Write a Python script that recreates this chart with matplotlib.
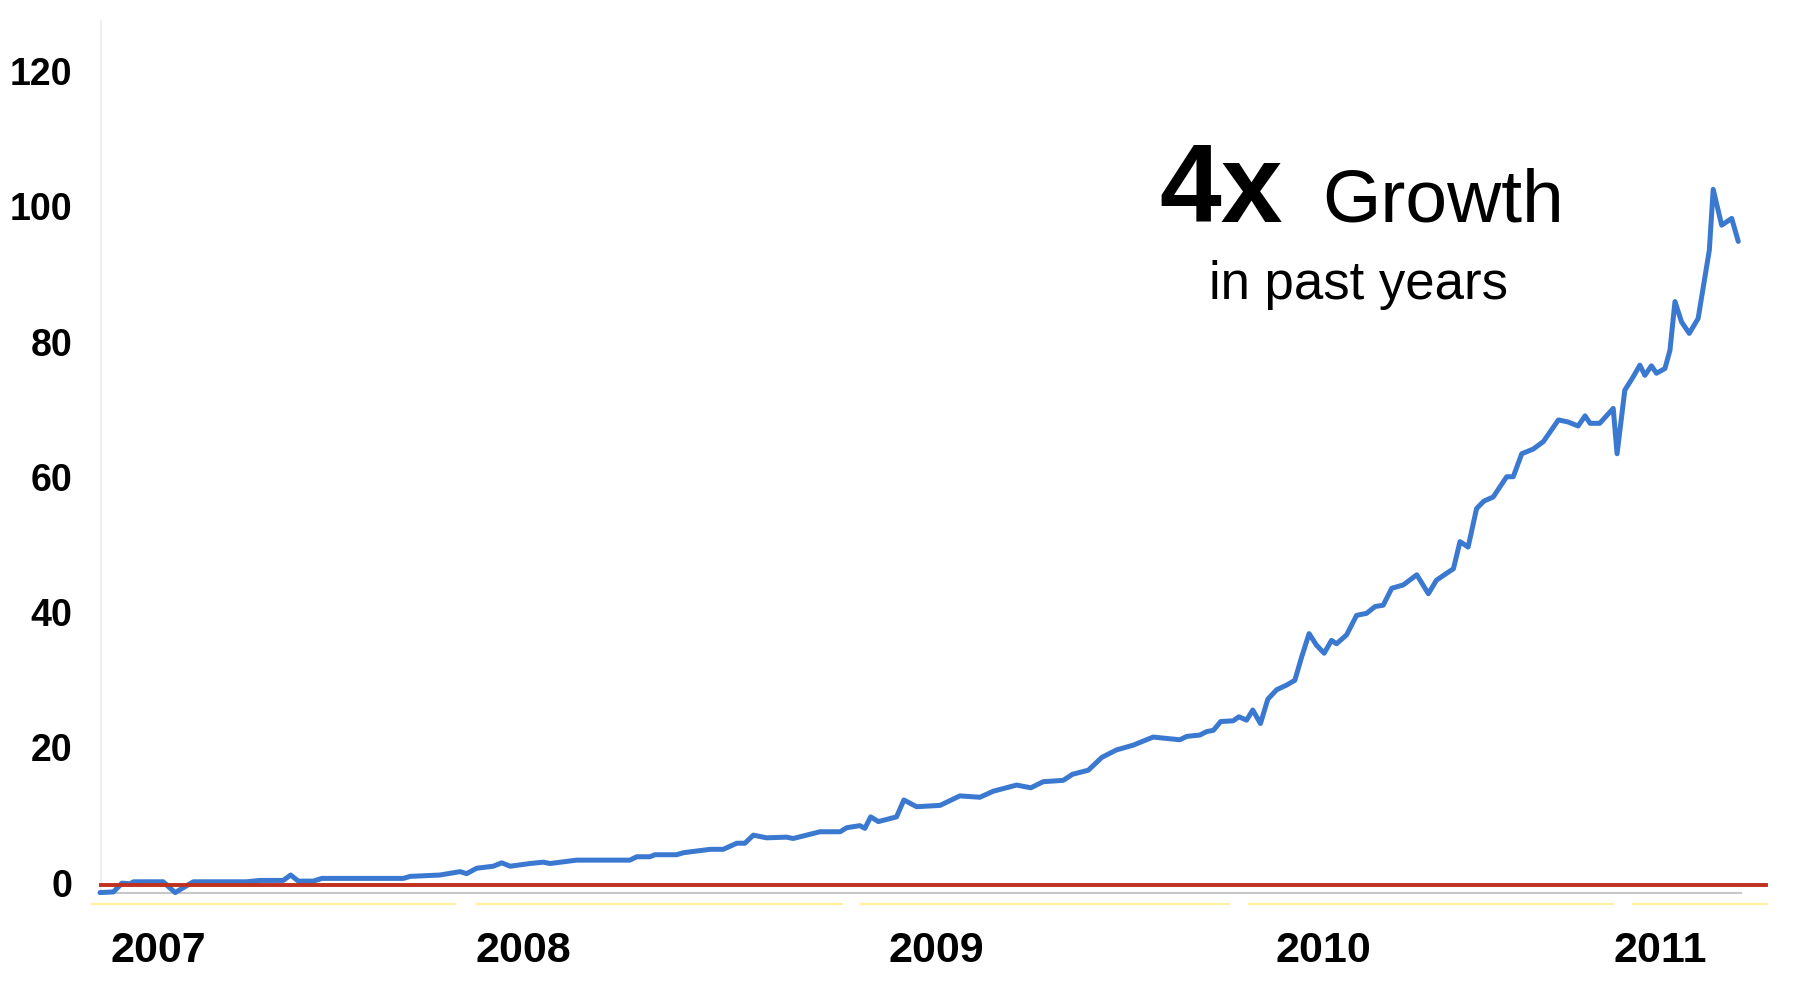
import matplotlib
matplotlib.use("Agg")
import matplotlib.pyplot as plt

plt.rcParams['font.family'] = ['Liberation Sans', 'DejaVu Sans']

# weekly search interest (decimal year, index)
years = [2007.054, 2007.089, 2007.111, 2007.132, 2007.141, 2007.218, 2007.231,
         2007.249, 2007.275, 2007.296, 2007.434, 2007.469, 2007.529, 2007.548,
         2007.568, 2007.607, 2007.629, 2007.840, 2007.858, 2007.935, 2007.987,
         2008.004, 2008.030, 2008.073, 2008.095, 2008.117, 2008.168, 2008.203,
         2008.220, 2008.289, 2008.350, 2008.427, 2008.445, 2008.479, 2008.492,
         2008.548, 2008.566, 2008.635, 2008.669, 2008.704, 2008.725, 2008.747,
         2008.781, 2008.833, 2008.850, 2008.885, 2008.920, 2008.972, 2008.989,
         2009.023, 2009.036, 2009.051, 2009.071, 2009.118, 2009.137, 2009.170,
         2009.231, 2009.282, 2009.334, 2009.369, 2009.429, 2009.466, 2009.498,
         2009.550, 2009.574, 2009.615, 2009.650, 2009.688, 2009.731, 2009.783,
         2009.818, 2009.852, 2009.870, 2009.904, 2009.921, 2009.939, 2009.958,
         2009.990, 2010.005, 2010.025, 2010.041, 2010.061, 2010.080, 2010.103,
         2010.129, 2010.150, 2010.168, 2010.187, 2010.206, 2010.226, 2010.245,
         2010.258, 2010.284, 2010.310, 2010.336, 2010.358, 2010.379, 2010.401,
         2010.431, 2010.466, 2010.496, 2010.517, 2010.561, 2010.578, 2010.599,
         2010.621, 2010.640, 2010.664, 2010.699, 2010.716, 2010.738, 2010.768,
         2010.794, 2010.833, 2010.858, 2010.884, 2010.902, 2010.915, 2010.940,
         2010.975, 2010.985, 2011.005, 2011.027, 2011.044, 2011.057, 2011.074,
         2011.087, 2011.109, 2011.122, 2011.135, 2011.152, 2011.172, 2011.195,
         2011.210, 2011.224, 2011.234, 2011.256, 2011.282, 2011.299]
interest = [-1.4, -1.3, 0.0, -0.1, 0.2, 0.2, -0.5,
            -1.4, -0.5, 0.2, 0.2, 0.4, 0.4, 1.2,
            0.3, 0.3, 0.7, 0.7, 1.0, 1.2, 1.7,
            1.4, 2.2, 2.5, 3.0, 2.5, 2.9, 3.1,
            2.9, 3.4, 3.4, 3.4, 3.9, 3.9, 4.2,
            4.2, 4.5, 5.0, 5.0, 5.9, 5.9, 7.1,
            6.7, 6.8, 6.6, 7.1, 7.6, 7.6, 8.2,
            8.5, 8.1, 9.8, 9.1, 9.8, 12.3, 11.3,
            11.5, 12.9, 12.7, 13.6, 14.5, 14.1, 15.0,
            15.2, 16.1, 16.7, 18.6, 19.7, 20.4, 21.6,
            21.4, 21.2, 21.7, 21.9, 22.4, 22.6, 23.9,
            24.0, 24.6, 24.1, 25.6, 23.6, 27.2, 28.6,
            29.3, 30.0, 33.5, 36.9, 35.2, 34.0, 35.9,
            35.4, 36.7, 39.6, 39.9, 40.9, 41.1, 43.6,
            44.1, 45.6, 42.8, 44.8, 46.5, 50.5, 49.7,
            55.4, 56.5, 57.1, 60.1, 60.1, 63.5, 64.2,
            65.3, 68.5, 68.2, 67.6, 69.1, 68.0, 68.0,
            70.2, 63.5, 72.9, 74.9, 76.6, 75.1, 76.5,
            75.4, 76.1, 78.8, 86.0, 83.0, 81.3, 83.5,
            88.7, 93.6, 102.6, 97.3, 98.3, 94.9]

ytick_vals = [0, 20, 40, 60, 80, 100, 120]
year_labels = ['2007', '2008', '2009', '2010', '2011']
year_label_pos = [2007.205, 2008.151, 2009.220, 2010.223, 2011.098]
# year bands shown as thin strips under the axis
band_start = [2007.033, 2008.030, 2009.027, 2010.030, 2011.027]
band_end = [2007.973, 2008.976, 2009.976, 2010.973, 2011.374]

fig = plt.figure(figsize=(17.95, 9.92), dpi=100)
ax = fig.add_axes([0, 0, 1, 1])
ax.set_xlim(2006.795, 2011.446)
ax.set_ylim(-16.1, 130.6)
ax.axis('off')

x0 = 2007.057
ax.plot([x0, x0], [-1.5, 127.5], color='#ececec', lw=1.2, zorder=1)
ax.plot([x0, 2011.306], [-1.45, -1.45], color='#c8c8c8', lw=1.5, zorder=1)
ax.plot([x0, 2011.370], [-0.35, -0.35], color='#c0301e', lw=2.8, zorder=3)
for s, e in zip(band_start, band_end):
    ax.plot([s, e], [-3.1, -3.1], color='#fff0a0', lw=1.6, zorder=1)

ax.plot(years, interest, color='#3b79d0', lw=3.6, solid_joinstyle='round',
        solid_capstyle='round', zorder=2)

for v in ytick_vals:
    ax.text(2006.982, v - 0.5, str(v), ha='right', va='center', fontsize=27,
            fontweight='bold')
for p, lab in zip(year_label_pos, year_labels):
    ax.text(p, -11.7, lab, ha='center', va='baseline', fontsize=31,
            fontweight='bold')

ax.text(2009.80, 97.8, '4x', ha='left', va='baseline', fontsize=80,
        fontweight='bold')
ax.text(2010.22, 97.8, 'Growth', ha='left', va='baseline', fontsize=54)
ax.text(2010.316, 86.4, 'in past years', ha='center', va='baseline',
        fontsize=38)

fig.savefig('out.png', dpi=100)
